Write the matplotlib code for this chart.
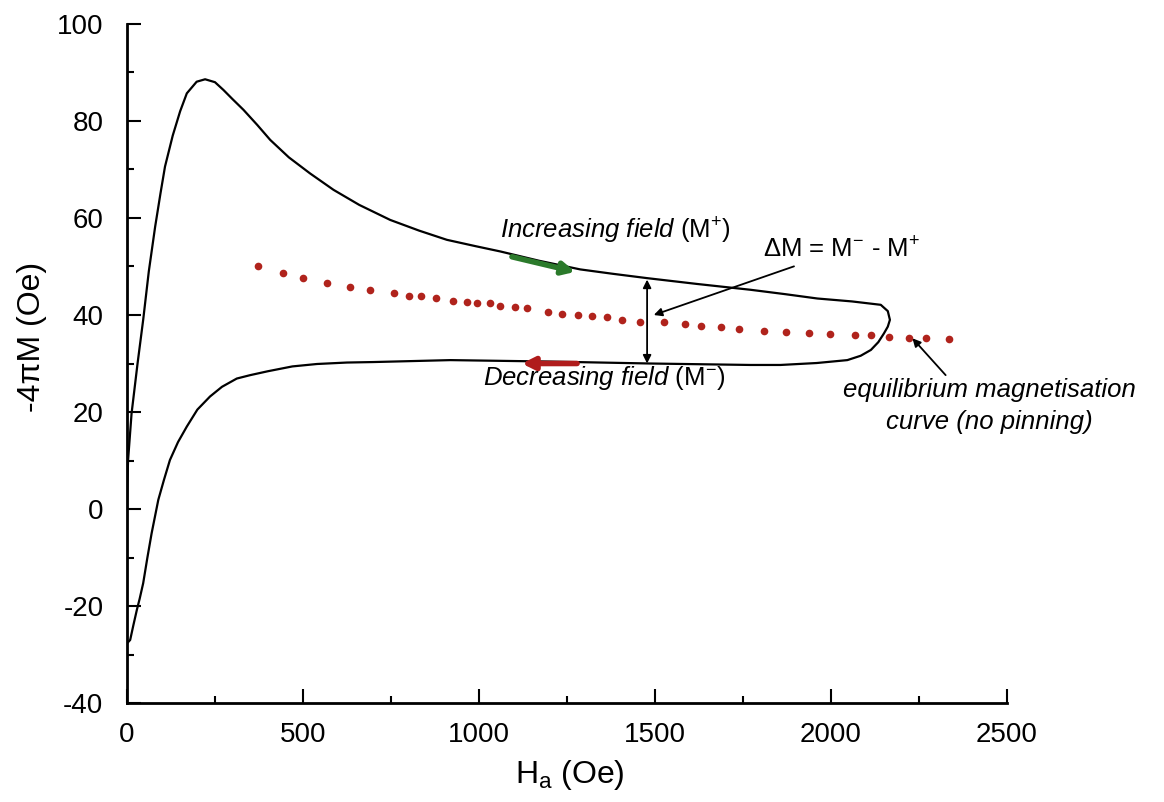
import numpy as np
import matplotlib
matplotlib.use("Agg")
import matplotlib.pyplot as plt

plt.rcParams['font.family'] = ['Liberation Sans', 'DejaVu Sans']
plt.rcParams['mathtext.fontset'] = 'custom'
plt.rcParams['mathtext.rm'] = 'Liberation Sans'
plt.rcParams['mathtext.it'] = 'Liberation Sans:italic'
plt.rcParams['mathtext.default'] = 'regular'
plt.rcParams['axes.unicode_minus'] = False

# hysteresis loop, increasing field branch (virgin curve up to the tip)
h_up = [0, 1, 3, 13, 30, 46, 62, 80, 95, 108, 130, 151, 170, 198, 222, 250,
        274, 300, 331, 370, 407, 460, 520, 587, 660, 748, 830, 909, 990, 1061,
        1170, 1288, 1380, 1478, 1620, 1772, 1870, 1962, 2060, 2142, 2162, 2168]
m_up = [0, 5, 10, 19.7, 30, 39.0, 49, 58.2, 65, 70.6, 77, 82, 85.7, 88.1,
        88.6, 88, 86.4, 84.5, 82.3, 79.2, 76.1, 72.5, 69.2, 65.8, 62.7, 59.6,
        57.4, 55.5, 54.2, 53.1, 51.2, 49.4, 48.5, 47.6, 46.4, 45.2, 44.3, 43.4,
        42.8, 42.1, 40.8, 39.0]

# decreasing field branch
h_down = [2168, 2162, 2151, 2135, 2114, 2085, 2047, 1960, 1857, 1772, 1487,
          1203, 919, 700, 625, 540, 470, 400, 350, 312, 270, 236, 200, 170,
          145, 122, 105, 89, 70, 58, 46, 36, 28, 18, 9, 0]
m_down = [39.0, 37.6, 36.2, 34.4, 32.8, 31.6, 30.7, 30.1, 29.7, 29.7, 30.0,
          30.4, 30.7, 30.3, 30.2, 29.9, 29.4, 28.4, 27.6, 26.9, 25.2, 23.2,
          20.5, 17.0, 13.8, 10.1, 6, 1.9, -5.0, -10, -15.3, -18.5, -20.8, -24,
          -27.0, -27.7]

# equilibrium magnetisation (dots)
h_eq = [373, 442, 500, 568, 634, 691, 760, 802, 835, 878, 925, 966, 996, 1032,
        1061, 1103, 1138, 1196, 1237, 1281, 1322, 1364, 1407, 1459, 1525, 1587,
        1630, 1687, 1739, 1810, 1872, 1938, 1999, 2068, 2113, 2165, 2222, 2270,
        2336]
m_eq = [50.1, 48.6, 47.7, 46.5, 45.8, 45.2, 44.5, 43.9, 43.9, 43.5, 42.9, 42.7,
        42.5, 42.4, 41.9, 41.6, 41.4, 40.7, 40.3, 40.0, 39.85, 39.5, 39.0, 38.6,
        38.6, 38.1, 37.7, 37.6, 37.2, 36.8, 36.4, 36.2, 36.0, 35.9, 35.9, 35.4,
        35.2, 35.2, 35.05]

xticks = [0, 500, 1000, 1500, 2000, 2500]
yticks = [-40, -20, 0, 20, 40, 60, 80, 100]

fig = plt.figure(figsize=(11.64, 8.02), dpi=100)
ax = fig.add_axes([0.1091, 0.1234, 0.7558, 0.8467])

ax.plot(h_up + h_down, m_up + m_down, color='black', lw=1.6)
ax.plot(h_eq, m_eq, 'o', color='#b0231c', ms=5.5, mec='none')

ax.set_xlim(0, 2500)
ax.set_ylim(-40, 100)
ax.set_xticks(xticks)
ax.set_yticks(yticks)
ax.set_xticks(np.arange(250, 2500, 500), minor=True)
ax.set_yticks(np.arange(-30, 100, 20), minor=True)
ax.spines['top'].set_visible(False)
ax.spines['right'].set_visible(False)
ax.spines['left'].set_linewidth(2)
ax.spines['bottom'].set_linewidth(2)
ax.tick_params(which='major', direction='in', length=10, width=1.5,
               labelsize=20)
ax.tick_params(which='minor', direction='in', length=5, width=1.5)
ax.tick_params(axis='x', pad=14)
ax.tick_params(axis='y', pad=17)

ax.set_xlabel('H$_a$ (Oe)', fontsize=23)
ax.set_ylabel('-4πM (Oe)', fontsize=23)
ax.xaxis.set_label_coords(0.503, -0.081)
ax.yaxis.set_label_coords(-0.091, 0.539)

# direction arrows
ax.annotate('', xy=(1274, 48.9), xytext=(1094, 52.0),
            arrowprops=dict(arrowstyle='-|>', color='#2b7a2b', lw=4,
                            mutation_scale=18, shrinkA=0, shrinkB=0))
ax.annotate('', xy=(1122, 30.0), xytext=(1279, 30.0),
            arrowprops=dict(arrowstyle='-|>', color='#b01c1c', lw=4,
                            mutation_scale=18, shrinkA=0, shrinkB=0))
# delta M
ax.annotate('', xy=(1478, 47.3), xytext=(1478, 30.0),
            arrowprops=dict(arrowstyle='<|-|>', color='black', lw=1.3,
                            mutation_scale=12, shrinkA=0, shrinkB=0))
ax.annotate('ΔM = M$^{-}$ - M$^{+}$', xy=(1497, 40.0), xytext=(1806, 53.4),
            fontsize=18.5, va='center', ha='left',
            arrowprops=dict(arrowstyle='-|>', color='black', lw=1.3,
                            mutation_scale=12, shrinkA=2, shrinkB=0))

ax.text(1061, 57.3, r'$\mathit{Increasing\ field}$ (M$^{+}$)', fontsize=18.5,
        va='center', ha='left')
ax.text(1012, 27.0, r'$\mathit{Decreasing\ field}$ (M$^{-}$)', fontsize=18.5,
        va='center', ha='left')

ax.annotate('equilibrium magnetisation\ncurve (no pinning)',
            xy=(2232, 35.2), xytext=(2450, 21.2), fontsize=18.5,
            style='italic', ha='center', va='center', linespacing=1.45,
            annotation_clip=False,
            arrowprops=dict(arrowstyle='-|>', color='black', lw=1.3,
                            mutation_scale=12, shrinkA=0, shrinkB=0,
                            relpos=(0.36, 1.0)))

plt.savefig('out.png', dpi=100)
